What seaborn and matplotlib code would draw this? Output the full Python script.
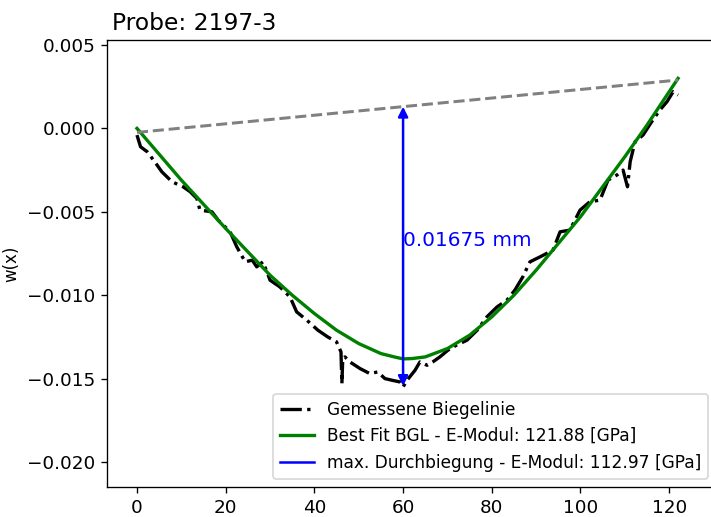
import matplotlib
matplotlib.use("Agg")
import matplotlib.pyplot as plt
import seaborn as sns
import numpy as np

# gemessene Biegelinie
x_mess = [0.0, 0.8, 2.3, 4.0, 5.6, 7.9, 10.4, 12.0, 13.5, 14.2, 16.9, 18.3, 21.0, 22.5,
          24.4, 26.0, 27.0, 28.4, 29.3, 30.0, 32.2, 34.5, 36.0, 38.3, 40.8, 43.0, 45.0,
          46.0, 46.2, 46.4, 46.9, 48.0, 50.3, 52.5, 54.3, 55.9, 57.5, 59.3, 60.0, 60.9,
          62.7, 63.8, 65.4, 66.7, 68.3, 70.1, 72.0, 74.4, 76.7, 78.9, 81.2, 83.4, 85.2,
          87.0, 88.6, 90.9, 93.8, 95.4, 97.6, 99.9, 102.1, 104.4, 106.2, 108.2, 109.6,
          110.6, 111.2, 112.3, 114.1, 116.3, 117.9, 119.5, 120.9, 122.0]
w_mess = [-0.0004, -0.0011, -0.0014, -0.0020, -0.0026, -0.0032, -0.0035, -0.0038, -0.0042,
          -0.0049, -0.0050, -0.0055, -0.0062, -0.0071, -0.0080, -0.0079, -0.0083, -0.0080,
          -0.0086, -0.0091, -0.0095, -0.0101, -0.0110, -0.0115, -0.0121, -0.0125, -0.0128,
          -0.0134, -0.0153, -0.0138, -0.0137, -0.0140, -0.0144, -0.0147, -0.0146, -0.0150,
          -0.0151, -0.0152, -0.0155, -0.0151, -0.0145, -0.0140, -0.0142, -0.0140, -0.0137,
          -0.0133, -0.0130, -0.0127, -0.0121, -0.0113, -0.0107, -0.0103, -0.0097, -0.0089,
          -0.0080, -0.0077, -0.0073, -0.0062, -0.0061, -0.0049, -0.0044, -0.0043, -0.0031,
          -0.0028, -0.0025, -0.0035, -0.0020, -0.0008, -0.0004, 0.0005, 0.0011, 0.0016,
          0.0022, 0.0020]

# best fit BGL
x_fit = [0, 5, 10, 15, 20, 25, 30, 35, 40, 45, 50, 55, 58, 60, 62, 65, 70, 75, 80, 85,
         90, 95, 100, 105, 110, 115, 120, 122]
w_fit = [0.0, -0.00155, -0.0031, -0.00455, -0.0060, -0.0074, -0.0088, -0.0100, -0.0111,
         -0.0121, -0.0129, -0.0135, -0.0137, -0.01382, -0.0138, -0.0137, -0.0132, -0.0124,
         -0.0113, -0.0100, -0.0085, -0.0069, -0.0053, -0.0035, -0.0017, 0.0002, 0.0022,
         0.0030]

# Sehne
x_sehne = [0, 122]
w_sehne = [-0.00024, 0.0029]

x_max = 60
f_max = 0.01675
probe = "2197-3"
e_fit = 121.88
e_max = 112.97

fig = plt.figure(figsize=(711 / 120, 517 / 120), dpi=120)
ax = fig.add_axes([107 / 711, 30 / 517, 630 / 711, 447 / 517])

sns.lineplot(x=x_mess, y=w_mess, ax=ax, color="black", linestyle="-.", linewidth=2,
             sort=False, label="Gemessene Biegelinie")
sns.lineplot(x=x_fit, y=w_fit, ax=ax, color="green", linewidth=2,
             label="Best Fit BGL - E-Modul: %.2f [GPa]" % e_fit)
sns.lineplot(x=x_sehne, y=w_sehne, ax=ax, color="grey", linestyle="--", linewidth=1.8)

top = w_sehne[0] + (w_sehne[1] - w_sehne[0]) * x_max / x_sehne[1]
bottom = top - f_max
ax.annotate("", xy=(x_max, top), xytext=(x_max, bottom),
            arrowprops=dict(arrowstyle="<|-|>", color="blue", lw=1.5,
                            mutation_scale=12, shrinkA=0, shrinkB=0))
ax.plot([], [], color="blue", linewidth=1.5,
        label="max. Durchbiegung - E-Modul: %.2f [GPa]" % e_max)
ax.text(x_max, (top + bottom) / 2, "%.5f mm" % f_max, color="blue", fontsize=12)

# breite 630 px -> rechter Rand liegt ausserhalb des Bildes
ax.set_xlim(-6.76, -6.76 + 630 / 4.435)
ax.set_ylim(-0.0215, 0.0053)
ax.set_xticks([0, 20, 40, 60, 80, 100, 120])
ax.set_yticks([0.005, 0.0, -0.005, -0.010, -0.015, -0.020])
ax.tick_params(labelsize=11)
ax.set_ylabel("w(x)", fontsize=10)
ax.set_title("Probe: " + probe, loc="left", fontsize=14, x=0.008)
ax.legend(loc="lower right", fontsize=10.2, bbox_to_anchor=(0.968, 0.0))

fig.savefig("out.png", dpi=120)
